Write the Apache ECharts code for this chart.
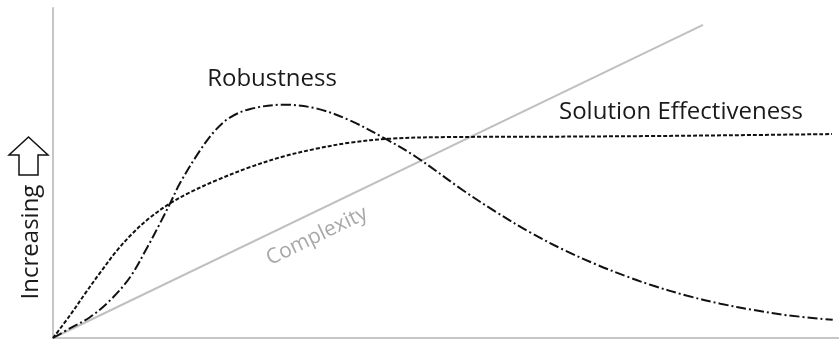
<!DOCTYPE html>
<html>
<head>
<meta charset="utf-8">
<script src="https://cdn.jsdelivr.net/npm/echarts@6/dist/echarts.min.js"></script>
<style>
  html, body { margin: 0; padding: 0; background: #fff; }
  #conceptChart { width: 839px; height: 340px; }
</style>
</head>
<body>
<div id="conceptChart"></div>
<script>
  // x and y are both on a 0..100 scale (no ticks shown)
  const complexity = [[0, 0], [82.7, 94.9]];

  const effectivenessX = [0, 2.2, 4.1, 6.0, 8.1, 10.2, 12.3, 14.9, 17.4, 20.9, 25.1, 29.3, 33.6, 37.8, 42.9, 50.5, 63.2, 76.0, 88.7, 99.1];
  const effectivenessY = [0, 7.0, 13.5, 19.8, 26.4, 31.9, 36.4, 40.8, 44.1, 47.9, 51.8, 55.0, 57.4, 59.2, 60.4, 60.9, 61.0, 61.2, 61.5, 61.8];

  const robustnessX = [0, 2.2, 4.7, 7.3, 9.8, 12.0, 13.6, 14.9, 16.2, 18.7, 20.6, 22.5, 25.1, 29.3, 33.6, 37.8, 42.5, 46.3, 52.2, 56.5, 60.7, 64.9, 69.2, 73.4, 76.3, 80.7, 84.9, 89.1, 93.4, 99.2];
  const robustnessY = [0, 3.0, 6.3, 11.5, 18.4, 27.5, 34.7, 40.8, 47.1, 56.8, 62.8, 66.8, 69.4, 70.7, 69.5, 65.9, 60.1, 54.7, 44.7, 38.0, 32.0, 26.8, 22.2, 18.3, 15.9, 12.8, 10.4, 8.5, 6.9, 5.5];

  const labels = {
    robustness: 'Robustness',
    effectiveness: 'Solution Effectiveness',
    complexity: 'Complexity',
    yName: 'Increasing'
  };

  const zip = (xs, ys) => xs.map((x, i) => [x, ys[i]]);

  const chart = echarts.init(document.getElementById('conceptChart'));
  const axisStyle = {
    type: 'value',
    min: 0,
    max: 100,
    axisLine: { show: true, lineStyle: { color: '#c6c6c6', width: 2 } },
    axisTick: { show: false },
    axisLabel: { show: false },
    splitLine: { show: false }
  };
  const font = '"Open Sans", "DejaVu Sans", sans-serif';

  const option = {
    animation: false,
    grid: { left: 53, right: 0, top: 8, bottom: 2 },
    xAxis: axisStyle,
    yAxis: axisStyle,
    series: [{
      name: 'Complexity',
      type: 'line',
      data: complexity,
      symbol: 'none',
      lineStyle: { color: '#c0c0c0', width: 2 },
      z: 1
    }, {
      name: 'Solution Effectiveness',
      type: 'line',
      data: zip(effectivenessX, effectivenessY),
      symbol: 'none',
      smooth: 0.35,
      lineStyle: { color: '#111', width: 2, type: [4, 2] },
      z: 2
    }, {
      name: 'Robustness',
      type: 'line',
      data: zip(robustnessX, robustnessY),
      symbol: 'none',
      smooth: 0.35,
      lineStyle: { color: '#111', width: 2, type: [10, 3, 2, 3] },
      z: 3
    }],
    graphic: [{
      type: 'text',
      x: 272, y: 79,
      style: { text: labels.robustness, fill: '#1a1a1a', font: '24px ' + font, textAlign: 'center', textVerticalAlign: 'middle' }
    }, {
      type: 'text',
      x: 681, y: 112,
      style: { text: labels.effectiveness, fill: '#1a1a1a', font: '24px ' + font, textAlign: 'center', textVerticalAlign: 'middle' }
    }, {
      type: 'text',
      x: 317, y: 236,
      rotation: 0.449,
      style: { text: labels.complexity, fill: '#a8a8a8', font: '21px ' + font, textAlign: 'center', textVerticalAlign: 'middle' }
    }, {
      type: 'text',
      x: 31, y: 242,
      rotation: Math.PI / 2,
      style: { text: labels.yName, fill: '#1a1a1a', font: '24px ' + font, textAlign: 'center', textVerticalAlign: 'middle' }
    }, {
      // outlined up arrow beside the axis name
      type: 'polygon',
      shape: { points: [[28.5, 137], [48, 155], [38, 155], [38, 175], [19, 175], [19, 155], [9, 155]] },
      style: { fill: '#fff', stroke: '#111', lineWidth: 1.5 }
    }]
  };
  chart.setOption(option);
</script>
</body>
</html>
